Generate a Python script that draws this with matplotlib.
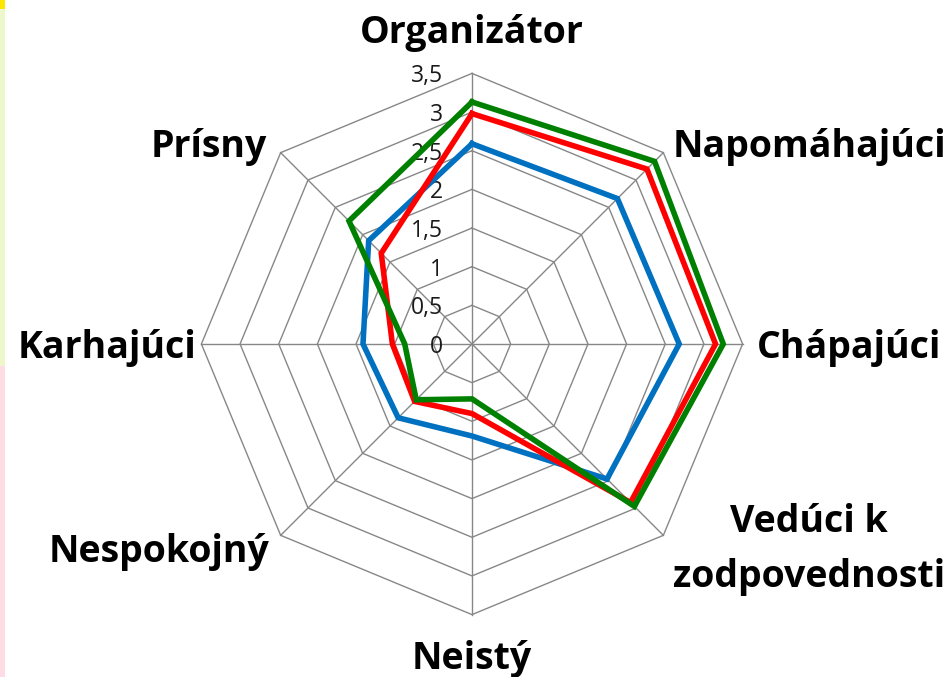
import matplotlib.pyplot as plt
import numpy as np
from matplotlib.patches import Rectangle

# categories and series values
categories = ['Organizátor', 'Napomáhajúci', 'Chápajúci', 'Vedúci k\nzodpovednosti',
              'Neistý', 'Nespokojný', 'Karhajúci', 'Prísny']
blue_vals = [2.59, 2.66, 2.68, 2.47, 1.19, 1.35, 1.41, 1.89]
red_vals = [2.98, 3.20, 3.15, 2.90, 0.90, 1.05, 1.03, 1.66]
green_vals = [3.13, 3.34, 3.25, 2.97, 0.71, 1.02, 0.87, 2.25]
ticks = [0, 0.5, 1, 1.5, 2, 2.5, 3, 3.5]
tick_labels = ['0', '0,5', '1', '1,5', '2', '2,5', '3', '3,5']

W, H = 952, 677
fig = plt.figure(figsize=(W / 100, H / 100), dpi=100)
fig.patch.set_facecolor('white')

# left edge colour strips
fig.add_artist(Rectangle((0, 1 - 9 / H), 5 / W, 9 / H, transform=fig.transFigure,
                         color='#ffe600', lw=0))
fig.add_artist(Rectangle((0, 1 - 366 / H), 5 / W, 357 / H, transform=fig.transFigure,
                         color='#eef7cc', lw=0))
fig.add_artist(Rectangle((0, 0), 5 / W, 1 - 366 / H, transform=fig.transFigure,
                         color='#ffdbe5', lw=0))

cx, cy, rad = 472, 344, 270.6
ax = fig.add_axes([(cx - rad) / W, (H - cy - rad) / H, 2 * rad / W, 2 * rad / H],
                  projection='polar')
ax.set_theta_zero_location('N')
ax.set_theta_direction(-1)
ax.set_ylim(0, 3.5)
ax.set_xticks([])
ax.set_yticks([])
ax.grid(False)
ax.spines['polar'].set_visible(False)
ax.patch.set_alpha(0)

n = len(categories)
angles = np.arange(n) * 2 * np.pi / n
closed = np.append(angles, angles[0])

grid_col = '#878787'
for t in ticks[1:]:
    ax.plot(closed, [t] * (n + 1), color=grid_col, lw=1.0, clip_on=False, zorder=1)
for a in angles:
    ax.plot([a, a], [0, 3.5], color=grid_col, lw=1.0, clip_on=False, zorder=1)

for vals, col in [(blue_vals, '#0070c0'), (red_vals, '#ff0000'), (green_vals, '#008000')]:
    ax.plot(closed, vals + vals[:1], color=col, lw=4.0, solid_joinstyle='miter',
            clip_on=False, zorder=3)

# radial tick labels
for t, lab in zip(ticks, tick_labels):
    ax.annotate(lab, xy=(0, t), xytext=(-29, 0), textcoords='offset pixels',
                ha='right', va='center_baseline', fontsize=16.5, family='Open Sans',
                color='#1a1a1a', zorder=2)

# category labels: (ha, offset x, offset y) from outer vertex, baseline aligned
label_pos = [('center', 0, 30), ('left', 9, -4), ('left', 14, -14), ('center', 146, -52),
             ('center', 0, -54), ('right', -11, -27), ('right', -5, -14), ('right', -14, -4)]
for a, lab, (ha, ox, oy) in zip(angles, categories, label_pos):
    ax.annotate(lab, xy=(a, 3.5), xytext=(ox, oy), textcoords='offset pixels',
                ha=ha, va='baseline', fontsize=27, fontweight='bold', family='Open Sans',
                multialignment='center', linespacing=1.6, annotation_clip=False)

fig.savefig('out.png', dpi=100)
